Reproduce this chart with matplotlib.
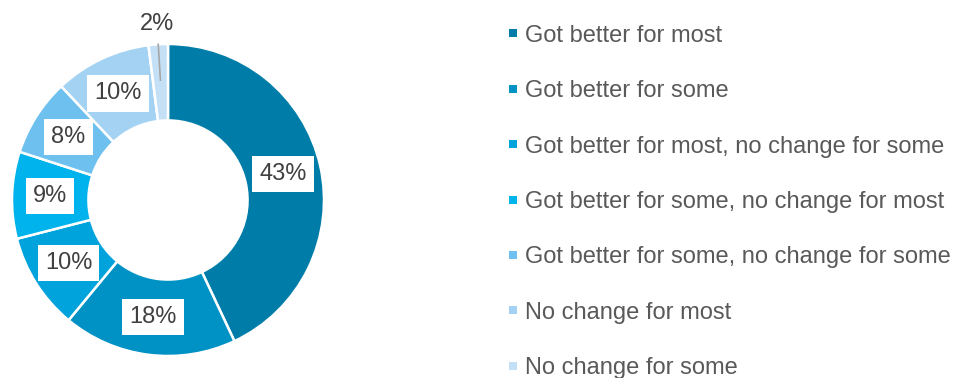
import numpy as np
import matplotlib.pyplot as plt
from matplotlib.patches import Rectangle

plt.rcParams['font.family'] = ['Liberation Sans', 'DejaVu Sans']

categories = ['Got better for most', 'Got better for some',
              'Got better for most, no change for some',
              'Got better for some, no change for most',
              'Got better for some, no change for some',
              'No change for most', 'No change for some']
shares = [43, 18, 10, 9, 8, 10, 2]
colors = ['#007CA8', '#0092C5', '#00A3DC', '#00B3EC', '#6EC1EE', '#A3D2F3', '#C4E0F6']

W, H = 961, 378
fig = plt.figure(figsize=(W / 100, H / 100), dpi=100)

# donut: centre (168, 200) px from top-left, outer radius 156 px
cx, cy, r_px, half = 168, 200, 156, 180
ax = fig.add_axes([(cx - half) / W, (H - cy - half) / H, 2 * half / W, 2 * half / H])

ring = 0.49
wedges, _ = ax.pie(shares, colors=colors, startangle=90, counterclock=False,
                   radius=1.0, wedgeprops=dict(width=ring, edgecolor='white', linewidth=1.8))

# pie() resets the limits, so fix the scale afterwards
lim = half / r_px
ax.set_xlim(-lim, lim)
ax.set_ylim(-lim, lim)
ax.set_aspect('equal')
ax.axis('off')

label_r = 1.0 - ring / 2
box = dict(boxstyle='square,pad=0.3', fc='white', ec='none')
for w, val in zip(wedges, shares):
    mid = np.deg2rad((w.theta1 + w.theta2) / 2)
    if val < 5:
        # small slice: label outside with a leader line
        ax.plot([np.cos(mid), 0.77 * np.cos(mid)], [np.sin(mid), 0.77 * np.sin(mid)],
                color='#A6A6A6', lw=1.2)
        ax.text(1.13 * np.cos(mid), 1.13 * np.sin(mid), f'{val}%', ha='center', va='center',
                fontsize=17, color='#404040')
    else:
        ax.text(label_r * np.cos(mid), label_r * np.sin(mid), f'{val}%', ha='center',
                va='center', fontsize=17, color='#404040', bbox=box)

# legend on the right
for i, (lab, col) in enumerate(zip(categories, colors)):
    y = 33.3 + i * 55.4
    fig.patches.append(Rectangle((509 / W, (H - y - 4) / H), 8 / W, 8 / H,
                                 transform=fig.transFigure, fc=col, ec='none'))
    fig.text(525 / W, (H - y) / H, lab, ha='left', va='center_baseline',
             fontsize=17, color='#595959')

fig.savefig('out.png', dpi=100)
